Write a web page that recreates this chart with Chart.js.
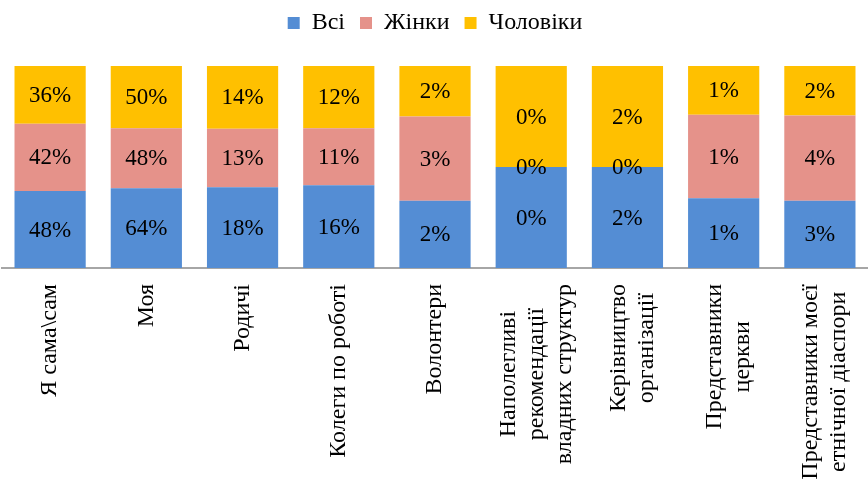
<!DOCTYPE html>
<html>
<head>
<meta charset="utf-8">
<script src="https://cdn.jsdelivr.net/npm/chart.js@4.4.1/dist/chart.umd.min.js"></script>
<style>
  html, body { margin: 0; padding: 0; background: #fff; }
  #wrap { width: 868px; height: 482px; }
</style>
</head>
<body>
<div id="wrap"><canvas id="chart"></canvas></div>
<script>
// categories (each one split into its display lines)
const categories = [
    ['Я сама\\сам'],
    ['Моя'],
    ['Родичі'],
    ['Колеги по роботі'],
    ['Волонтери'],
    ['Наполегливі', 'рекомендації', 'владних структур'],
    ['Керівництво', 'організації'],
    ['Представники', 'церкви'],
    ['Представники моєї', 'етнічної діаспори']
];
const seriesNames = ['Всі', 'Жінки', 'Чоловіки'];
const allValues = [48, 64, 18, 16, 2, 0.4, 2, 1, 3];
const womenValues = [42, 48, 13, 11, 2.5, 0, 0, 1.2, 3.8];
const menValues = [36, 50, 14, 12, 1.5, 0.4, 2, 0.7, 2.2];
const seriesColors = ['#548DD4', '#E5928A', '#FFC000'];

const FONT = '"Liberation Serif", "Times New Roman", serif';
const series = [allValues, womenValues, menValues];

// 100% stacked: each column is split by share
const totals = categories.map((c, i) => series.reduce((s, arr) => s + arr[i], 0));

const datasets = series.map((vals, k) => ({
    label: seriesNames[k],
    data: vals.map((v, i) => totals[i] ? v / totals[i] : 0),
    raw: vals,
    backgroundColor: seriesColors[k],
    borderWidth: 0,
    categoryPercentage: 1,
    barPercentage: 0.74
}));

const legendHeight = {
    id: 'legendHeight',
    afterInit(chart) {
        const fit = chart.legend.fit;
        chart.legend.fit = function() {
            fit.call(this);
            this.height = 70;
        };
    }
};

const segmentLabels = {
    id: 'segmentLabels',
    afterDatasetsDraw(chart) {
        const ctx = chart.ctx;
        ctx.save();
        ctx.font = '23px ' + FONT;
        ctx.fillStyle = '#000';
        ctx.textAlign = 'center';
        ctx.textBaseline = 'middle';
        chart.data.datasets.forEach((ds, k) => {
            const meta = chart.getDatasetMeta(k);
            meta.data.forEach((bar, i) => {
                const yc = (bar.y + bar.base) / 2;
                ctx.fillText(Math.round(ds.raw[i]) + '%', bar.x, yc + 1);
            });
        });
        ctx.restore();
    }
};

const categoryLabels = {
    id: 'categoryLabels',
    afterDraw(chart) {
        const ctx = chart.ctx;
        const xScale = chart.scales.x;
        const top = chart.chartArea.bottom + 16;
        const lineGap = 28;
        ctx.save();
        ctx.font = '24px ' + FONT;
        ctx.fillStyle = '#000';
        ctx.textAlign = 'center';
        ctx.textBaseline = 'middle';
        categories.forEach((lines, i) => {
            const x = xScale.getPixelForValue(i);
            const maxW = Math.max(...lines.map(l => ctx.measureText(l).width));
            const yc = top + maxW / 2;
            lines.forEach((line, j) => {
                const off = lines.length > 1 ? (j - (lines.length - 1) / 2) * lineGap + 5 : 0;
                ctx.save();
                ctx.translate(x + off, yc);
                ctx.rotate(-Math.PI / 2);
                ctx.fillText(line, 0, 0);
                ctx.restore();
            });
        });
        ctx.restore();
    }
};

new Chart(document.getElementById('chart'), {
    type: 'bar',
    data: {
        labels: categories.map(c => c.join(' ')),
        datasets: datasets
    },
    options: {
        responsive: true,
        maintainAspectRatio: false,
        animation: false,
        layout: { padding: { left: 2, right: 0, top: -4, bottom: 0 } },
        plugins: {
            legend: {
                position: 'top',
                labels: {
                    boxWidth: 12,
                    boxHeight: 12,
                    padding: 15,
                    color: '#000',
                    font: { family: FONT, size: 24, lineHeight: 0.5 }
                }
            },
            tooltip: { enabled: false }
        },
        scales: {
            x: {
                stacked: true,
                grid: { display: false },
                border: { display: true, color: '#A6A6A6', width: 2 },
                ticks: { display: false },
                afterFit(scale) { scale.height = 214; }
            },
            y: {
                stacked: true,
                display: false,
                min: 0,
                max: 1
            }
        }
    },
    plugins: [legendHeight, segmentLabels, categoryLabels]
});
</script>
</body>
</html>
